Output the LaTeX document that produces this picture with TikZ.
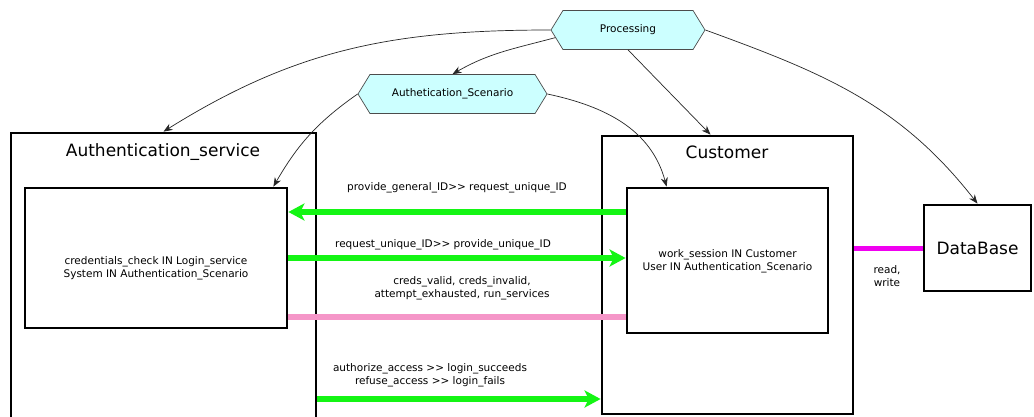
\documentclass[tikz,border=0pt]{standalone}
\usepackage{fontspec}
\setmainfont{DejaVu Sans}
\usetikzlibrary{arrows.meta,shapes.symbols,calc}
\definecolor{hexfill}{RGB}{204,255,255}
\definecolor{gflow}{RGB}{20,245,20}
\definecolor{pflow}{RGB}{245,150,200}
\definecolor{mflow}{RGB}{240,0,240}
\begin{document}
\begin{tikzpicture}[x=1pt,y=1pt,
  box/.style={draw, line width=2.8pt, inner sep=0pt, rectangle},
  hexa/.style={signal, signal to=west and east, signal pointer angle=117,
    draw=black!70, fill=hexfill, line width=0.7pt, inner sep=0pt,
    minimum height=39pt, font=\fontsize{10.5}{12}\selectfont},
  title/.style={anchor=base, font=\fontsize{17}{20}\selectfont},
  small/.style={align=center, font=\fontsize{10.5}{13}\selectfont},
  tarrow/.style={draw=black!85, line width=0.7pt, -{Stealth[length=9pt,width=7pt]}},
  gline/.style={draw=gflow, line width=6pt, -{Stealth[length=16pt,width=17pt,inset=4pt]}},
  pline/.style={draw=pflow, line width=6pt},
  mline/.style={draw=mflow, line width=5pt}
]
\clip (0,0) rectangle (1034,416);
\fill[white] (0,0) rectangle (1034,416);

% boxes
\node[box, minimum width=305pt, minimum height=292pt] (auth) at (163.5,137) {};
\node[box, minimum width=262pt, minimum height=140pt] (authin) at (156,158) {};
\node[box, minimum width=251pt, minimum height=278pt] (cust) at (727.5,141) {};
\node[box, minimum width=201pt, minimum height=145pt] (custin) at (727.5,155.5) {};
\node[box, minimum width=107pt, minimum height=86pt, font=\fontsize{17}{20}\selectfont] (db) at (977.5,168) {DataBase};

\node[title] (authtitle) at (163,260) {Authentication\_service};
\node[title] (custtitle) at (727,258) {Customer};

\node[small] (authtext) at (156,148) {credentials\_check IN Login\_service\\System IN Authentication\_Scenario};
\node[small] (custtext) at (727.5,155) {work\_session IN Customer\\User IN Authentication\_Scenario};

% hexagons
\node[hexa, minimum width=154pt] (proc) at (628,386) {Processing};
\node[hexa, minimum width=189pt] (scen) at (452.5,322) {Authetication\_Scenario};

% thin arrows
\draw[tarrow] (proc.west) to[out=180,in=32] (auth.north);
\draw[tarrow] (proc.186) to[out=195,in=30] (scen.north);
\draw[tarrow] (proc.south) -- ([xshift=-17pt]cust.north);
\draw[tarrow] (proc.east) to[out=-20,in=128] (db.north);
\draw[tarrow] (scen.west) to[out=215,in=60] ([xshift=-15pt]authin.north east);
\draw[tarrow] (scen.east) to[out=-12,in=105] ([xshift=41pt]custin.north west);

% flows
\coordinate (yA) at (0,204);
\coordinate (yB) at (0,158);
\coordinate (yC) at (0,99);
\coordinate (yD) at (0,17);
\draw[gline] (custin.west |- yA) -- (authin.east |- yA);
\draw[gline] (authin.east |- yB) -- (custin.west |- yB);
\draw[pline] (authin.east |- yC) -- (custin.west |- yC);
\draw[gline] (auth.east |- yD) -- (cust.west |- yD);
\draw[mline] (cust.east |- db.west) -- (db.west);

% flow labels
\node[small] (l1) at (457,228) {provide\_general\_ID>{}> request\_unique\_ID};
\node[small] (l2) at (443,171) {request\_unique\_ID>{}> provide\_unique\_ID};
\node[small] (l3) at (462,128) {creds\_valid, creds\_invalid,\\attempt\_exhausted, run\_services};
\node[small] (l4) at (430,41) {authorize\_access >{}> login\_succeeds\\refuse\_access >{}> login\_fails};
\node[small] (l5) at (887,140) {read,\\write};
\end{tikzpicture}
\end{document}
